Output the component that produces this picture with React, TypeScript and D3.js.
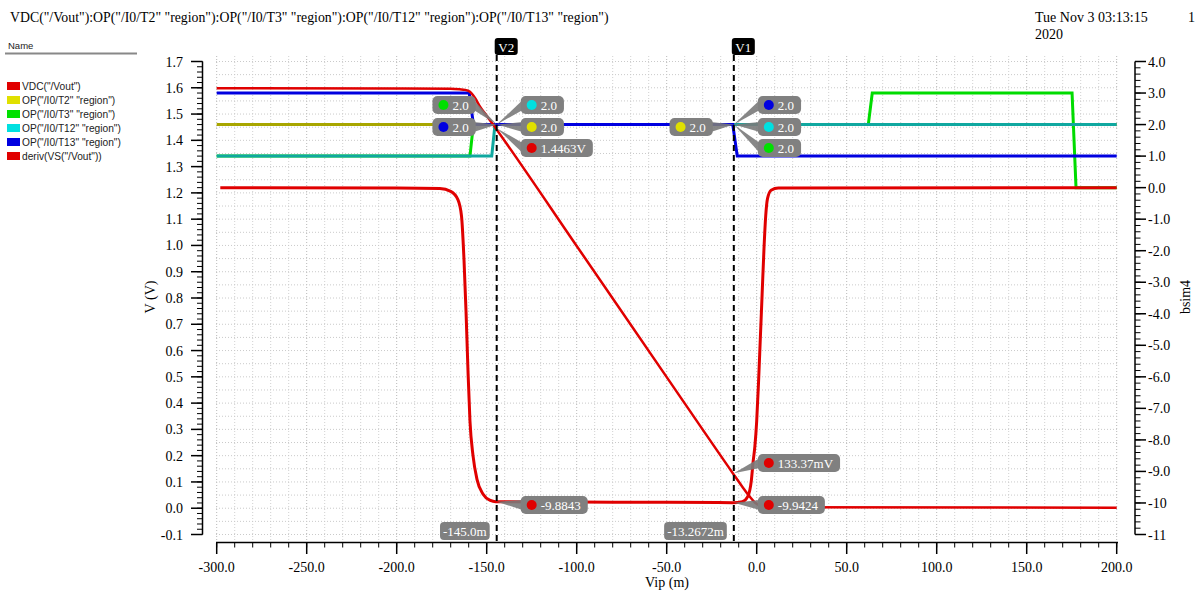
import * as d3 from "d3"

// sweep values (Vip in mV)
const vdcX = [-300, -200, -170, -165, -162, -159.3, -156.5, -153.7, -149.8, -145, -100, -50, -13.2672, -8, -4, -1, 2, 5, 10, 200]
const vdcY = [1.598, 1.597, 1.596, 1.594, 1.592, 1.585, 1.561, 1.528, 1.492, 1.4463, 0.998, 0.499, 0.13337, 0.082, 0.045, 0.022, 0.010, 0.006, 0.004, 0.002]

const derivX = [-298, -200, -176, -170, -166, -164, -162.6, -161.5, -160.4, -159.3, -157.6, -155.4, -152, -148, -145, -100, -50, -13.2672, -8, -5, -3, -2, -1, 0, 1, 2, 3, 4, 5, 6, 8, 12, 200]
const derivY = [-0.005, -0.01, -0.03, -0.12, -0.38, -0.9, -2.3, -3.9, -5.8, -7.4, -8.5, -9.25, -9.72, -9.92, -9.96, -9.97, -9.98, -9.99, -9.96, -9.8, -9.3, -8.7, -8.2, -7.4, -6.2, -4.8, -3.4, -2.0, -0.9, -0.35, -0.08, -0.01, -0.005]

const t2X = [-300, 200]
const t2Y = [2, 2]
const t3X = [-300, -159.3, -157.4, 62.0, 64.2, 175.2, 177.4, 200]
const t3Y = [1, 1, 2, 2, 3, 3, 0, 0]
const t12X = [-300, -147.2, -145.4, 200]
const t12Y = [1, 1, 2, 2]
const t13X = [-300, -159.7, -157.4, -13.3, -10.8, 200]
const t13Y = [3, 3, 2, 2, 1, 1]

const legendNames = ['VDC("/Vout")', 'OP("/I0/T2" "region")', 'OP("/I0/T3" "region")', 'OP("/I0/T12" "region")', 'OP("/I0/T13" "region")', 'deriv(VS("/Vout"))']
const legendColors = ["#e00000", "#e0e000", "#00e000", "#00e0e0", "#0000e0", "#e00000"]

const xTicks = d3.range(-300, 201, 50)
const yLTicks = d3.range(-1, 18).map(i => i / 10)
const yRTicks = d3.range(-11, 5)

const V2 = -145
const V1 = -13.2672

const SERIF = "'Liberation Serif', serif"
const SANS = "'Liberation Sans', sans-serif"

const x = d3.scaleLinear().domain([-300, 200]).range([216.7, 1116.7])
const yL = d3.scaleLinear().domain([-0.1, 1.7]).range([534.5, 61.5])
const yR = d3.scaleLinear().domain([-11, 4]).range([534.5, 61.5])

let ctx: CanvasRenderingContext2D | null = null
function textW(s: string, font = `13px ${SERIF}`) {
  if (!ctx) ctx = document.createElement("canvas").getContext("2d")
  if (!ctx) return s.length * 6.5
  ctx.font = font
  return ctx.measureText(s).width
}

function path(xs: number[], ys: number[], ys2: d3.ScaleLinear<number, number>, smooth: boolean) {
  const l = d3.line<number>().x((_, i) => x(xs[i])).y(d => ys2(d))
  if (smooth) l.curve(d3.curveMonotoneX)
  return l(ys) || ""
}

function Marker({ ax, ay, cy, text, dot, left }: { ax: number; ay: number; cy: number; text: string; dot: string; left?: boolean }) {
  const tw = textW(text)
  const w = tw + 27
  const x0 = left ? ax - 21 - w : ax + 24
  const edge = left ? x0 + w - 2 : x0 + 2
  return (
    <g>
      <polygon points={`${ax},${ay} ${edge},${cy - 5} ${edge},${cy + 5}`} fill="#7a7a7a" opacity={0.9} />
      <rect x={x0} y={cy - 9} width={w} height={18} rx={5} fill="#808080" />
      <circle cx={x0 + 11} cy={cy} r={5} fill={dot} />
      <text x={x0 + 20} y={cy + 5} fill="#fff" fontSize={13} fontFamily={SERIF}>{text}</text>
    </g>
  )
}

function XTag({ xv, text }: { xv: number; text: string }) {
  const tw = textW(text)
  const w = tw + 6
  const x0 = x(xv) - 6 - w
  return (
    <g>
      <rect x={x0} y={522} width={w} height={18} rx={4} fill="#808080" />
      <text x={x0 + 3} y={536} fill="#fff" fontSize={13} fontFamily={SERIF}>{text}</text>
    </g>
  )
}

export default function App() {
  const gridX = d3.range(-300, 201, 10)
  const gridY = d3.range(-2, 35).map(i => i * 0.05)
  const minorX = d3.range(-300, 201, 10)
  const minorL = d3.range(-5, 86).map(i => i * 0.02)
  const minorR = d3.range(-55, 21).map(i => i * 0.2)
  const a2 = { x: x(V2), y: yR(2) }
  const a1 = { x: x(V1), y: yR(2) }
  return (
    <svg width={1200} height={600} style={{ position: "absolute", left: 0, top: 0, background: "#fff" }}>
      {/* header */}
      <text x={10} y={22} fontSize={13.8} fontFamily={SERIF}>{'VDC("/Vout"):OP("/I0/T2" "region"):OP("/I0/T3" "region"):OP("/I0/T12" "region"):OP("/I0/T13" "region")'}</text>
      <text x={1035} y={22} fontSize={14} fontFamily={SERIF}>Tue Nov 3 03:13:15</text>
      <text x={1035} y={39} fontSize={14} fontFamily={SERIF}>2020</text>
      <text x={1188} y={22} fontSize={14} fontFamily={SERIF}>1</text>

      {/* legend */}
      <text x={8} y={49} fontSize={9.5} fontFamily={SANS} fill="#222">Name</text>
      <line x1={5} x2={137} y1={53.5} y2={53.5} stroke="#888" strokeWidth={2} />
      {legendNames.map((n, i) => (
        <g key={n + i}>
          <rect x={7} y={82 + i * 14} width={13} height={8} fill={legendColors[i]} />
          <text x={22} y={89.5 + i * 14} fontSize={10.2} fontFamily={SANS} fill="#222">{n}</text>
        </g>
      ))}

      {/* grid */}
      {gridX.map(v => (
        <line key={"gx" + v} x1={x(v)} x2={x(v)} y1={56} y2={540} stroke={v % 50 === 0 ? "#b8b8b8" : "#d0d0d0"} strokeDasharray="1,2" />
      ))}
      {gridY.map(v => (
        <line key={"gy" + v} x1={216} x2={1118} y1={yL(v)} y2={yL(v)} stroke="#cacaca" strokeDasharray="1,2" />
      ))}

      {/* left axis */}
      <line x1={202.5} x2={202.5} y1={61.5} y2={534.5} stroke="#000" strokeWidth={1.5} />
      {minorL.map(v => (
        <line key={"ml" + v} x1={197} x2={202.5} y1={yL(v)} y2={yL(v)} stroke="#000" />
      ))}
      {yLTicks.map(v => (
        <g key={"l" + v}>
          <line x1={191} x2={202.5} y1={yL(v)} y2={yL(v)} stroke="#000" strokeWidth={1.5} />
          <text x={183} y={yL(v) + 5} textAnchor="end" fontSize={14} fontFamily={SERIF}>{v.toFixed(1)}</text>
        </g>
      ))}
      <text transform="translate(155,297) rotate(-90)" textAnchor="middle" fontSize={14} fontFamily={SERIF}>V (V)</text>

      {/* right axis */}
      <line x1={1135} x2={1135} y1={61.5} y2={534.5} stroke="#000" strokeWidth={1.5} />
      {minorR.map(v => (
        <line key={"mr" + v} x1={1135} x2={1140.5} y1={yR(v)} y2={yR(v)} stroke="#000" />
      ))}
      {yRTicks.map(v => (
        <g key={"r" + v}>
          <line x1={1135} x2={1146} y1={yR(v)} y2={yR(v)} stroke="#000" strokeWidth={1.5} />
          <text x={1148} y={yR(v) + 5} fontSize={14} fontFamily={SERIF}>{Math.abs(v) >= 10 ? String(v) : v.toFixed(1)}</text>
        </g>
      ))}
      <text transform="translate(1190,297) rotate(-90)" textAnchor="middle" fontSize={14} fontFamily={SERIF}>bsim4</text>

      {/* bottom axis */}
      <line x1={216} x2={1118} y1={542.5} y2={542.5} stroke="#000" strokeWidth={1.5} />
      {minorX.map(v => (
        <line key={"mx" + v} x1={x(v)} x2={x(v)} y1={542.5} y2={547.5} stroke="#000" />
      ))}
      {xTicks.map(v => (
        <g key={"x" + v}>
          <line x1={x(v)} x2={x(v)} y1={542.5} y2={554} stroke="#000" strokeWidth={1.5} />
          <text x={x(v)} y={572} textAnchor="middle" fontSize={14} fontFamily={SERIF}>{v.toFixed(1)}</text>
        </g>
      ))}
      <text x={667} y={587} textAnchor="middle" fontSize={14} fontFamily={SERIF}>Vip (m)</text>

      {/* traces */}
      <path d={path(t2X, t2Y, yR, false)} fill="none" stroke="#a8a600" strokeWidth={3} />
      <path d={path(t3X, t3Y, yR, false)} fill="none" stroke="#00dc00" strokeWidth={3} />
      <path d={path(t12X, t12Y, yR, false)} fill="none" stroke="#10a8a0" strokeWidth={3} />
      <path d={path(t13X, t13Y, yR, false)} fill="none" stroke="#0000e0" strokeWidth={3} />
      <path d={path(vdcX, vdcY, yL, true)} fill="none" stroke="#e00000" strokeWidth={2.5} />
      <path d={path(derivX, derivY, yR, true)} fill="none" stroke="#e00000" strokeWidth={3} />

      {/* vertical markers */}
      {[{ v: V2, n: "V2" }, { v: V1, n: "V1" }].map(m => (
        <g key={m.n}>
          <line x1={x(m.v) + 1} x2={x(m.v) + 1} y1={55} y2={542} stroke="#000" strokeWidth={2} strokeDasharray="6,4" />
          <rect x={x(m.v) - 1} y={38} width={23} height={17} rx={3} fill="#000" />
          <text x={x(m.v) + 10.5} y={52} textAnchor="middle" fill="#fff" fontSize={13} fontFamily={SERIF}>{m.n}</text>
        </g>
      ))}

      {/* point markers at V2 */}
      <Marker ax={a2.x + 1} ay={a2.y} cy={105} text="2.0" dot="#00e000" left />
      <Marker ax={a2.x + 1} ay={a2.y} cy={127} text="2.0" dot="#0000e0" left />
      <Marker ax={a2.x + 1} ay={a2.y} cy={105} text="2.0" dot="#00e0e0" />
      <Marker ax={a2.x + 1} ay={a2.y} cy={127} text="2.0" dot="#e0e000" />
      <Marker ax={a2.x + 1} ay={yL(1.4463)} cy={148} text="1.4463V" dot="#e00000" />
      <Marker ax={a2.x + 1} ay={yR(-9.96)} cy={505} text="-9.8843" dot="#e00000" />

      {/* point markers at V1 */}
      <Marker ax={a1.x + 1} ay={a1.y} cy={127} text="2.0" dot="#e0e000" left />
      <Marker ax={a1.x + 1} ay={a1.y} cy={105} text="2.0" dot="#0000e0" />
      <Marker ax={a1.x + 1} ay={a1.y} cy={127} text="2.0" dot="#00e0e0" />
      <Marker ax={a1.x + 1} ay={a1.y} cy={148} text="2.0" dot="#00e000" />
      <Marker ax={a1.x + 1} ay={yL(0.13337)} cy={463} text="133.37mV" dot="#e00000" />
      <Marker ax={a1.x + 1} ay={yR(-9.99)} cy={505} text="-9.9424" dot="#e00000" />

      <XTag xv={V2} text="-145.0m" />
      <XTag xv={V1} text="-13.2672m" />
    </svg>
  )
}
